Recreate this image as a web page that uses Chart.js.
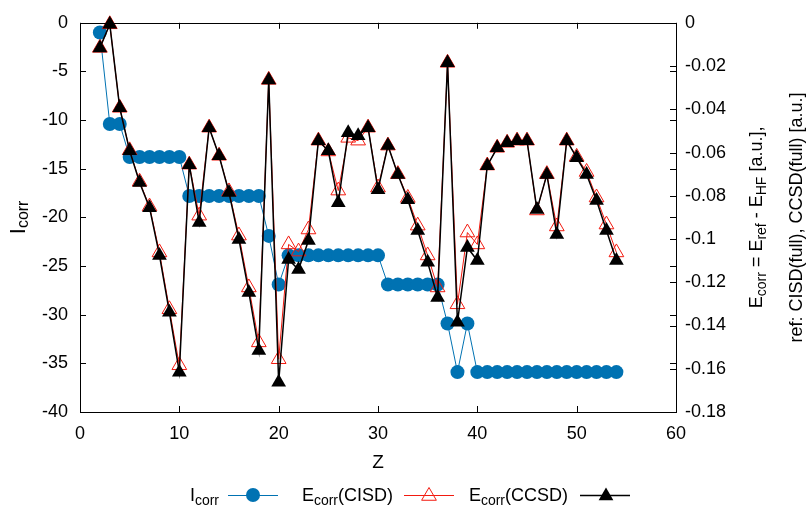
<!DOCTYPE html>
<html>
<head>
<meta charset="utf-8">
<script src="https://cdn.jsdelivr.net/npm/chart.js@4.4.1/dist/chart.umd.min.js"></script>
<style>
  html, body { margin: 0; padding: 0; background: #ffffff; }
  #wrap { width: 806px; height: 507px; position: relative; }
</style>
</head>
<body>
<div id="wrap"><canvas id="c" width="806" height="507"></canvas></div>
<script>
// ---- data ----
const Z = [2,3,4,5,6,7,8,9,10,11,12,13,14,15,16,17,18,19,20,21,22,23,24,25,26,27,28,29,30,
           31,32,33,34,35,36,37,38,39,40,41,42,43,44,45,46,47,48,49,50,51,52,53,54];

const I_CORR = [-1,-10.4,-10.4,
  -13.8,-13.8,-13.8,-13.8,-13.8,-13.8,
  -17.8,-17.8,-17.8,-17.8,-17.8,-17.8,-17.8,-17.8,
  -21.9,-26.9,
  -23.9,-23.9,-23.9,-23.9,-23.9,-23.9,-23.9,-23.9,-23.9,-23.9,
  -26.9,-26.9,-26.9,-26.9,-26.9,-26.9,
  -30.9,-35.9,-30.9,
  -35.9,-35.9,-35.9,-35.9,-35.9,-35.9,-35.9,-35.9,-35.9,-35.9,-35.9,-35.9,-35.9,-35.9,-35.9];

const E_CISD = [-0.0116,-0.0007,-0.0393,-0.0590,-0.0735,-0.0850,-0.1062,-0.1325,-0.1584,
  -0.0656,-0.0892,-0.0485,-0.0615,-0.0780,-0.0984,-0.1224,-0.1478,-0.0264,-0.1556,
  -0.1025,-0.1058,-0.0956,-0.0545,-0.0595,-0.0776,-0.0532,-0.0545,-0.0485,-0.0762,
  -0.0568,-0.0700,-0.0810,-0.0938,-0.1076,-0.1224,-0.0185,-0.1302,-0.0970,-0.1025,
  -0.0660,-0.0578,-0.0555,-0.0545,-0.0545,-0.0868,-0.0700,-0.0942,-0.0545,-0.0620,
  -0.0690,-0.0808,-0.0933,-0.1062];

const E_CCSD = [-0.0116,-0.0007,-0.0393,-0.0592,-0.0739,-0.0855,-0.1076,-0.1339,-0.1616,
  -0.0656,-0.0924,-0.0485,-0.0615,-0.0785,-0.1002,-0.1247,-0.1515,-0.0264,-0.1662,
  -0.1095,-0.1141,-0.1007,-0.0545,-0.0592,-0.0832,-0.0508,-0.0522,-0.0485,-0.0772,
  -0.0568,-0.0702,-0.0818,-0.0961,-0.1108,-0.1270,-0.0185,-0.1385,-0.1039,-0.1099,
  -0.0661,-0.0578,-0.0555,-0.0545,-0.0545,-0.0864,-0.0702,-0.0979,-0.0545,-0.0624,
  -0.0702,-0.0822,-0.0961,-0.1099];

const X_TICKS = [0,10,20,30,40,50,60];
const X_TICK_LABELS = ['0','10','20','30','40','50','60'];
const Y_TICKS = [0,-5,-10,-15,-20,-25,-30,-35,-40];
const Y_TICK_LABELS = ['0','-5','-10','-15','-20','-25','-30','-35','-40'];
const Y2_TICKS = [0,-0.02,-0.04,-0.06,-0.08,-0.1,-0.12,-0.14,-0.16,-0.18];
const Y2_TICK_LABELS = ['0','-0.02','-0.04','-0.06','-0.08','-0.1','-0.12','-0.14','-0.16','-0.18'];

const BLUE = '#0072b2';
const RED = '#f21a0f';
const BLACK = '#000000';
const FONT = '"Liberation Sans", Arial, Helvetica, sans-serif';

function pts(xs, ys) { return xs.map((x, i) => ({ x: x, y: ys[i] })); }

function richText(ctx, parts, x, y, align, size, subSize, subDrop) {
  let w = 0;
  parts.forEach(p => {
    ctx.font = (p.sub ? subSize : size) + 'px ' + FONT;
    p.w = ctx.measureText(p.t).width;
    w += p.w;
  });
  let cx = align === 'center' ? x - w / 2 : (align === 'right' ? x - w : x);
  ctx.textBaseline = 'alphabetic';
  ctx.textAlign = 'left';
  parts.forEach(p => {
    ctx.font = (p.sub ? subSize : size) + 'px ' + FONT;
    ctx.fillText(p.t, cx, y + (p.sub ? subDrop : 0));
    cx += p.w;
  });
}

function triangle(ctx, x, y, r, fill, stroke, lw) {
  ctx.beginPath();
  for (let k = 0; k < 3; k++) {
    const a = k * 2 * Math.PI / 3;
    const px = x + Math.sin(a) * r, py = y - Math.cos(a) * r;
    if (k === 0) ctx.moveTo(px, py); else ctx.lineTo(px, py);
  }
  ctx.closePath();
  if (fill) { ctx.fillStyle = fill; ctx.fill(); }
  if (stroke) { ctx.strokeStyle = stroke; ctx.lineWidth = lw; ctx.stroke(); }
}

const decor = {
  id: 'decor',
  afterDraw(chart) {
    const ctx = chart.ctx;
    const a = chart.chartArea;
    const sx = chart.scales.x, sy = chart.scales.y, sy2 = chart.scales.y2;
    ctx.save();
    ctx.strokeStyle = '#000';
    ctx.lineWidth = 1;
    // border box
    ctx.strokeRect(Math.round(a.left) + 0.5, Math.round(a.top) + 0.5,
                   Math.round(a.right - a.left), Math.round(a.bottom - a.top));
    const T = 6;
    ctx.beginPath();
    X_TICKS.forEach(v => {
      const px = Math.round(sx.getPixelForValue(v)) + 0.5;
      ctx.moveTo(px, a.bottom); ctx.lineTo(px, a.bottom - T);
      ctx.moveTo(px, a.top); ctx.lineTo(px, a.top + T);
    });
    Y_TICKS.forEach(v => {
      const py = Math.round(sy.getPixelForValue(v)) + 0.5;
      ctx.moveTo(a.left, py); ctx.lineTo(a.left + T, py);
      ctx.moveTo(a.right, py); ctx.lineTo(a.right - T, py);
    });
    Y2_TICKS.forEach(v => {
      const py = Math.round(sy2.getPixelForValue(v)) + 0.5;
      ctx.moveTo(a.right, py); ctx.lineTo(a.right - T, py);
    });
    ctx.stroke();

    ctx.fillStyle = '#000';
    // x title
    ctx.font = '19px ' + FONT;
    ctx.textAlign = 'center';
    ctx.textBaseline = 'alphabetic';
    ctx.fillText('Z', (a.left + a.right) / 2, 468);

    const midY = (a.top + a.bottom) / 2;
    // left title (rotated)
    ctx.save();
    ctx.translate(25, midY);
    ctx.rotate(-Math.PI / 2);
    richText(ctx, [{t: 'I'}, {t: 'corr', sub: true}], 0, 0, 'center', 22, 16, 3);
    ctx.restore();

    // right titles (rotated)
    ctx.save();
    ctx.translate(762, midY);
    ctx.rotate(-Math.PI / 2);
    richText(ctx, [{t: 'E'}, {t: 'corr', sub: true}, {t: ' = E'}, {t: 'ref', sub: true},
                   {t: ' - E'}, {t: 'HF', sub: true}, {t: ' [a.u.],'}], 0, 0, 'center', 18, 14, 4);
    ctx.restore();
    ctx.save();
    ctx.translate(802, midY);
    ctx.rotate(-Math.PI / 2);
    richText(ctx, [{t: 'ref: CISD(full), CCSD(full) [a.u.]'}], 0, 0, 'center', 18, 14, 4);
    ctx.restore();

    // legend
    const ly = 495, base = 501;
    ctx.fillStyle = '#000';
    richText(ctx, [{t: 'I'}, {t: 'corr', sub: true}], 219, base, 'right', 18, 14, 4);
    richText(ctx, [{t: 'E'}, {t: 'corr', sub: true}, {t: '(CISD)'}], 393, base, 'right', 18, 14, 4);
    richText(ctx, [{t: 'E'}, {t: 'corr', sub: true}, {t: '(CCSD)'}], 568, base, 'right', 18, 14, 4);

    ctx.lineWidth = 1;
    ctx.strokeStyle = BLUE;
    ctx.beginPath(); ctx.moveTo(228, ly + 0.5); ctx.lineTo(278, ly + 0.5); ctx.stroke();
    ctx.fillStyle = BLUE;
    ctx.beginPath(); ctx.arc(253, ly, 7, 0, Math.PI * 2); ctx.fill();

    ctx.strokeStyle = RED;
    ctx.beginPath(); ctx.moveTo(404, ly + 0.5); ctx.lineTo(454, ly + 0.5); ctx.stroke();
    triangle(ctx, 429, ly + 1, 8.5, null, RED, 1);

    ctx.strokeStyle = BLACK;
    ctx.lineWidth = 1.5;
    ctx.beginPath(); ctx.moveTo(580, ly + 0.5); ctx.lineTo(630, ly + 0.5); ctx.stroke();
    triangle(ctx, 606, ly + 1, 8.5, BLACK, null, 0);

    ctx.restore();
  }
};

const tickFont = { family: FONT, size: 18 };

new Chart(document.getElementById('c'), {
  type: 'line',
  data: {
    datasets: [
      {
        label: 'E_corr(CCSD)', data: pts(Z, E_CCSD), yAxisID: 'y2', order: 0,
        borderColor: BLACK, borderWidth: 1.5, backgroundColor: BLACK,
        pointStyle: 'triangle', pointRadius: 8.5, pointBackgroundColor: BLACK,
        pointBorderWidth: 0, pointBorderColor: BLACK, tension: 0, clip: false
      },
      {
        label: 'E_corr(CISD)', data: pts(Z, E_CISD), yAxisID: 'y2', order: 1,
        borderColor: RED, borderWidth: 1, backgroundColor: 'rgba(0,0,0,0)',
        pointStyle: 'triangle', pointRadius: 8.5, pointBackgroundColor: 'rgba(0,0,0,0)',
        pointBorderWidth: 1, pointBorderColor: RED, tension: 0, clip: false
      },
      {
        label: 'I_corr', data: pts(Z, I_CORR), yAxisID: 'y', order: 2,
        borderColor: BLUE, borderWidth: 1, backgroundColor: BLUE,
        pointStyle: 'circle', pointRadius: 7, pointBackgroundColor: BLUE,
        pointBorderWidth: 0, tension: 0, clip: false
      }
    ]
  },
  options: {
    responsive: false,
    animation: false,
    events: [],
    devicePixelRatio: 1,
    layout: { padding: { top: 22, left: 0, right: 0, bottom: 0 } },
    plugins: { legend: { display: false }, tooltip: { enabled: false }, title: { display: false } },
    scales: {
      x: {
        type: 'linear', position: 'bottom', min: 0, max: 60,
        grid: { display: false, drawTicks: false }, border: { display: false },
        afterBuildTicks: s => { s.ticks = X_TICKS.map(v => ({ value: v })); },
        ticks: { padding: 11, color: '#000', font: tickFont, maxRotation: 0, autoSkip: false,
                 callback: (v, i) => X_TICK_LABELS[i] },
        afterFit: s => { s.height = 95; }
      },
      y: {
        type: 'linear', position: 'left', min: -40, max: 0,
        grid: { display: false, drawTicks: false }, border: { display: false },
        afterBuildTicks: s => { s.ticks = Y_TICKS.map(v => ({ value: v })); },
        ticks: { padding: 12, color: '#000', font: tickFont, autoSkip: false,
                 callback: (v, i) => Y_TICK_LABELS[i] },
        afterFit: s => { s.width = 80; }
      },
      y2: {
        type: 'linear', position: 'right', min: -0.18, max: 0,
        grid: { display: false, drawTicks: false }, border: { display: false },
        afterBuildTicks: s => { s.ticks = Y2_TICKS.map(v => ({ value: v })); },
        ticks: { padding: 9, color: '#000', font: tickFont, autoSkip: false,
                 callback: (v, i) => Y2_TICK_LABELS[i] },
        afterFit: s => { s.width = 130; }
      }
    }
  },
  plugins: [decor]
});
</script>
</body>
</html>
